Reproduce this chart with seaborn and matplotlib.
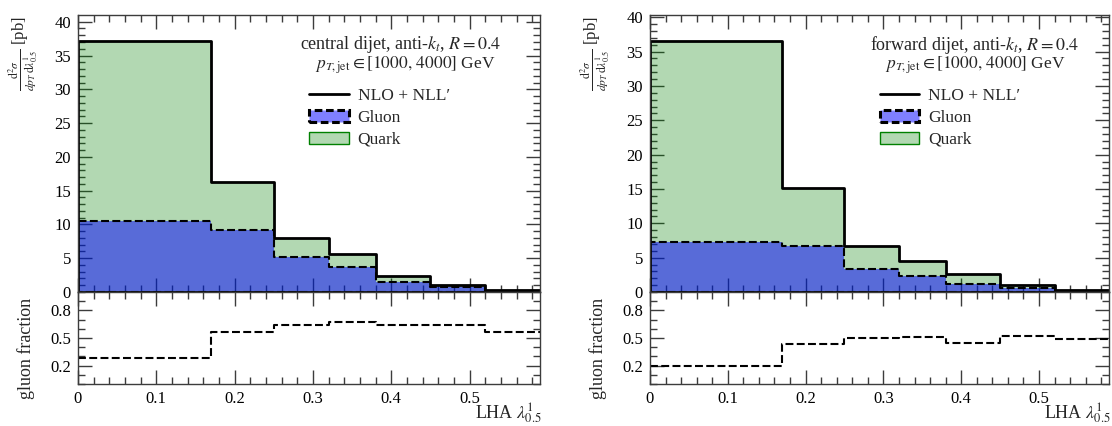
import numpy as np
import pandas as pd
import matplotlib
matplotlib.use("Agg")
import matplotlib.pyplot as plt
from matplotlib.lines import Line2D
from matplotlib.patches import Patch
from matplotlib.ticker import MultipleLocator, FixedLocator, FuncFormatter
import seaborn as sns

# LHA lambda^1_0.5 bin edges
bin_edges = [0.0, 0.17, 0.25, 0.32, 0.38, 0.45, 0.52, 0.59]

# NLO + NLL' cross section per bin [pb] and gluon fraction per bin
central_total = [37.1, 16.25, 7.95, 5.55, 2.35, 1.05, 0.25]
central_gluon_frac = [0.285, 0.565, 0.645, 0.67, 0.64, 0.64, 0.565]

forward_total = [36.5, 15.1, 6.7, 4.55, 2.62, 1.02, 0.22]
forward_gluon_frac = [0.20, 0.44, 0.505, 0.51, 0.45, 0.525, 0.49]

region_names = ["central", "forward"]
legend_labels = ["NLO + NLL\u2032", "Gluon", "Quark"]
frac_ticks = [0.2, 0.5, 0.8]

sns.set_theme(style="ticks")
plt.rcParams.update({
    "font.family": ["Liberation Serif", "DejaVu Serif"],
    "mathtext.fontset": "stix",
    "axes.edgecolor": "#3c3c3c",
    "axes.linewidth": 1.0,
    "xtick.color": "#3c3c3c",
    "ytick.color": "#3c3c3c",
    "xtick.labelcolor": "black",
    "ytick.labelcolor": "black",
})

W, H = 1112, 426
fig = plt.figure(figsize=(W / 100, H / 100), dpi=100)

quark_face = (0.0, 0.5, 0.0, 0.3)
gluon_face = (0.0, 0.0, 1.0, 0.5)
clear = (0.0, 0.0, 0.0, 0.0)
dash = (0, (3.8, 1.6))


def px_box(x0, x1, y0, y1):
    return [x0 / W, 1 - y1 / H, (x1 - x0) / W, (y1 - y0) / H]


def style_ticks(ax):
    ax.tick_params(which="both", direction="in", top=True, right=True, width=1.0)
    ax.tick_params(which="major", length=10, labelsize=12, pad=5)
    ax.tick_params(which="minor", length=5)
    ax.tick_params(axis="x", which="major", pad=5)


def draw_panel(x0, x1, total, frac, region):
    ax_top = fig.add_axes(px_box(x0, x1, 15, 292))
    ax_bot = fig.add_axes(px_box(x0, x1, 292, 384), sharex=ax_top)

    edges = np.array(bin_edges)
    centers = 0.5 * (edges[:-1] + edges[1:])
    total = np.asarray(total)
    frac = np.asarray(frac)
    df = pd.DataFrame({"lam": centers, "total": total,
                       "gluon": total * frac, "frac": frac})
    common = dict(data=df, x="lam", bins=list(bin_edges), element="step",
                  stat="count")

    # quark + gluon (total) fill, gluon fill on top, then total outline
    sns.histplot(weights="total", fill=True, color="green", facecolor=quark_face,
                 edgecolor=clear, linewidth=0, ax=ax_top, **common)
    sns.histplot(weights="gluon", fill=True, color="blue", facecolor=gluon_face,
                 edgecolor="black", linestyle=dash, linewidth=1.5,
                 ax=ax_top, **common)
    sns.histplot(weights="total", fill=True, color="black", facecolor=clear,
                 edgecolor="black", linewidth=2.0, ax=ax_top, **common)

    # gluon fraction
    sns.histplot(weights="frac", fill=False, color="black", linestyle=dash,
                 linewidth=1.5, ax=ax_bot, **common)

    ax_top.set_xlim(bin_edges[0], bin_edges[-1])
    ax_top.set_ylim(0, 1.105 * total.max())
    ax_bot.set_ylim(0, 1.0)

    for ax in (ax_top, ax_bot):
        ax.set_xlabel("")
        ax.set_ylabel("")
        ax.xaxis.set_major_locator(MultipleLocator(0.1))
        ax.xaxis.set_minor_locator(MultipleLocator(0.02))
        style_ticks(ax)

    ax_top.yaxis.set_major_locator(MultipleLocator(5))
    ax_top.yaxis.set_minor_locator(MultipleLocator(1))
    ax_top.tick_params(axis="x", labelbottom=False)

    ax_bot.yaxis.set_major_locator(FixedLocator(frac_ticks))
    ax_bot.yaxis.set_minor_locator(MultipleLocator(0.1))
    ax_bot.xaxis.set_major_formatter(
        FuncFormatter(lambda v, _: "0" if abs(v) < 1e-9 else f"{v:.1f}"))

    # description text
    ax_top.text(0.48, 0.892, rf"{region} dijet, anti-$k_t$, $R = 0.4$",
                transform=ax_top.transAxes, ha="left", va="center", fontsize=13)
    ax_top.text(0.513, 0.819, r"$p_{T,\mathrm{jet}} \in [1000,\,4000]$ GeV",
                transform=ax_top.transAxes, ha="left", va="center", fontsize=12.5)

    handles = [
        Line2D([], [], color="black", lw=2.0),
        Patch(facecolor=gluon_face, edgecolor="black", linestyle=(0, (2.5, 1.2)),
              linewidth=2.2),
        Patch(facecolor=quark_face, edgecolor="green", linewidth=1.0),
    ]
    ax_top.legend(handles, legend_labels, loc="upper left",
                  bbox_to_anchor=(0.5, 0.736), frameon=False, fontsize=12.5,
                  borderpad=0, borderaxespad=0, handlelength=2.3,
                  handletextpad=0.5, labelspacing=0.32)

    # axis labels
    fig.text((x0 - 55) / W, 1 - 16 / H,
             r"$\frac{\mathrm{d}^2\sigma}{dp_T\,\mathrm{d}\lambda^1_{0.5}}$ [pb]",
             rotation=90, ha="center", va="top", fontsize=12)
    fig.text((x0 - 52) / W, 1 - 348 / H, "gluon fraction",
             rotation=90, ha="center", va="center", fontsize=13)
    fig.text((x1 + 2) / W, 1 - 419 / H, r"LHA $\lambda^1_{0.5}$",
             ha="right", va="baseline", fontsize=13)


draw_panel(78, 540, central_total, central_gluon_frac, region_names[0])
draw_panel(650, 1109, forward_total, forward_gluon_frac, region_names[1])

fig.savefig("out.png", dpi=100)
